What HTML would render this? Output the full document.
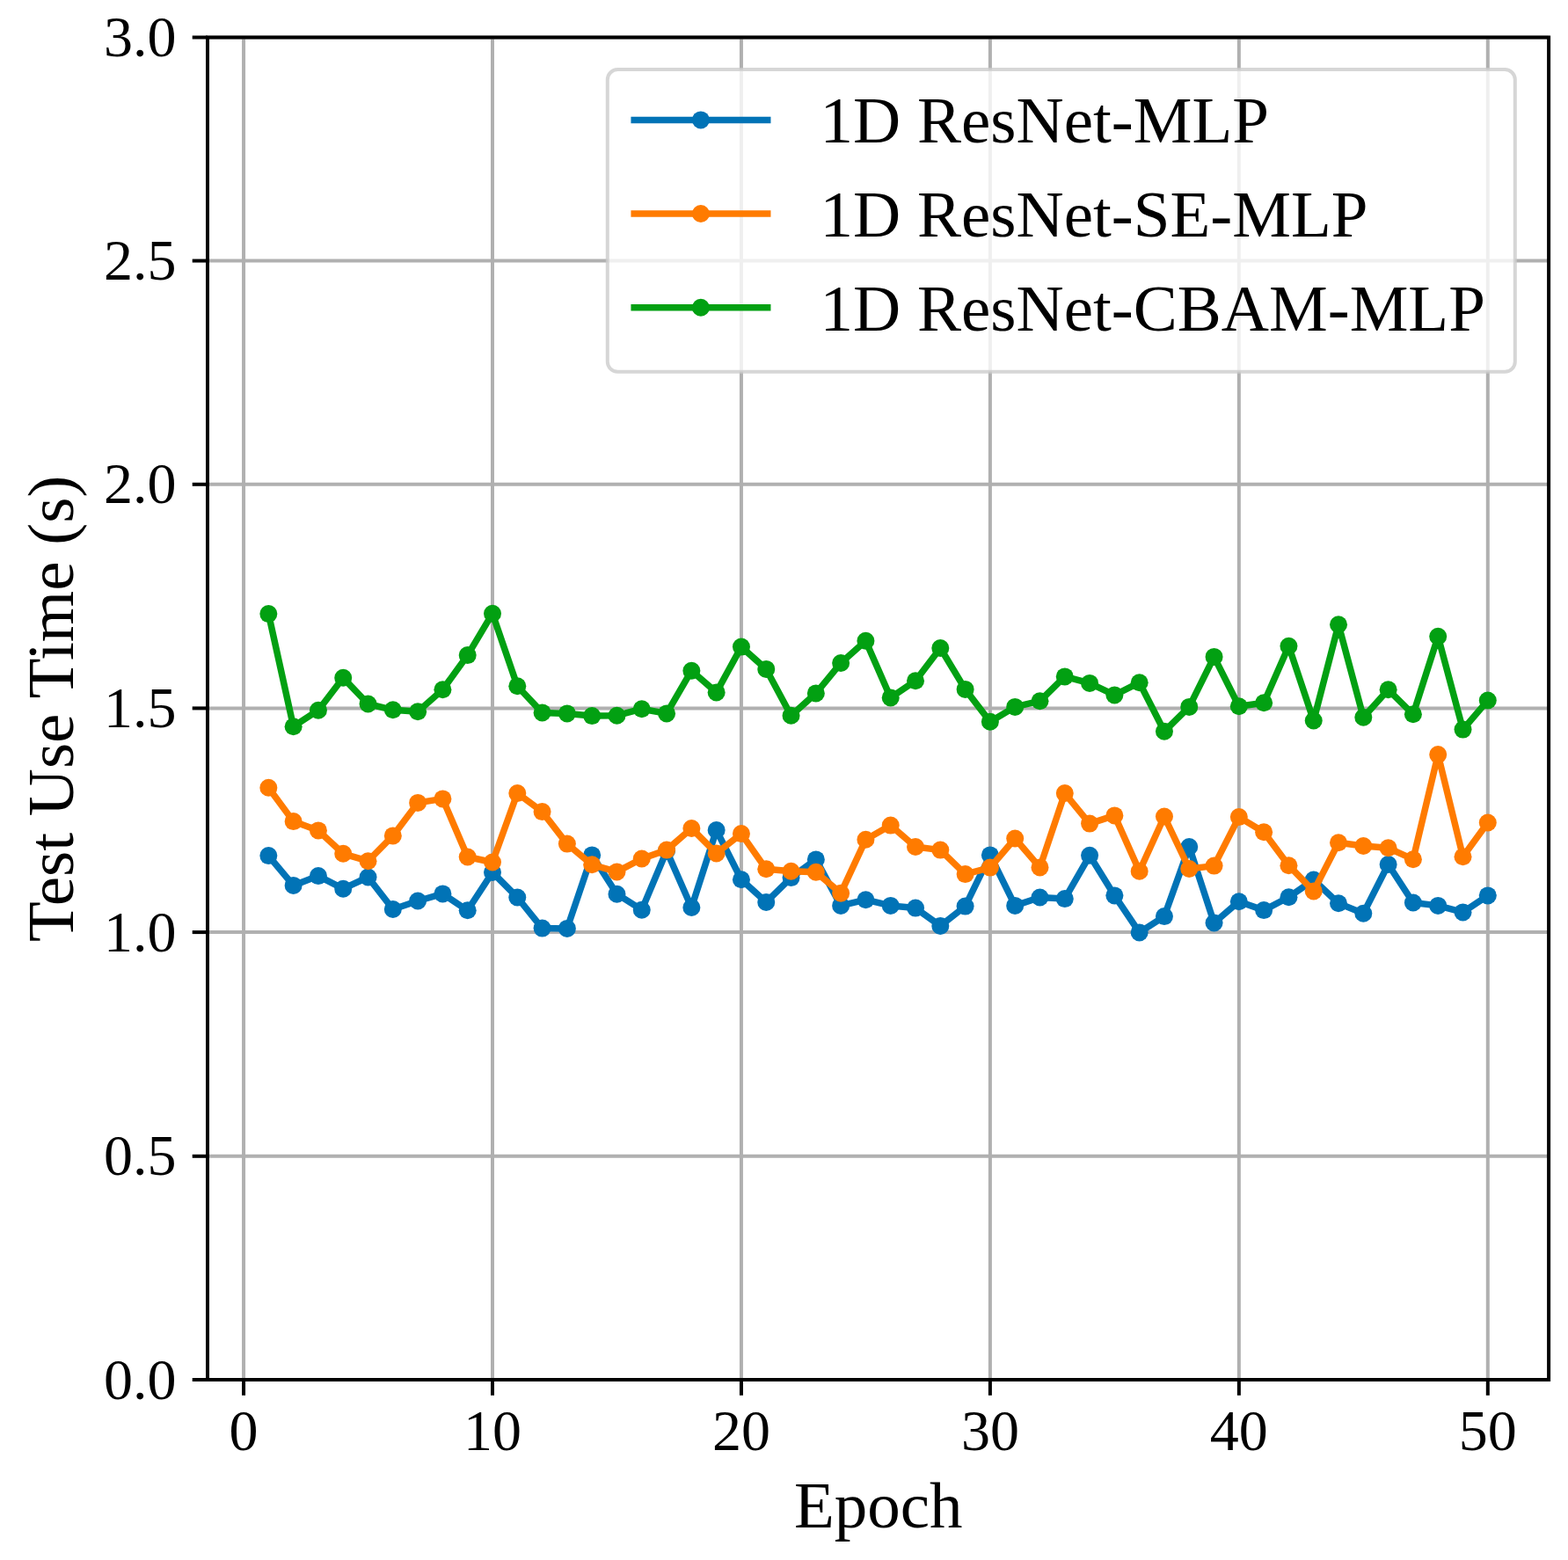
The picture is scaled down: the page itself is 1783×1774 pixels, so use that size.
<!DOCTYPE html>
<html lang="en"><head><meta charset="utf-8"><title>Test Use Time per Epoch</title>
<style>
html,body{margin:0;padding:0;background:#fff;}
body{width:1783px;height:1774px;overflow:hidden;}
svg{display:block;}
text{font-family:"Liberation Serif", "Times New Roman", Times, serif;fill:#000;}
.tk{font-size:66px;}
.lb{font-size:75px;}
.lg{font-size:75px;}
</style></head><body>
<svg width="1783" height="1774" viewBox="0 0 1783 1774">
<defs><filter id="soft" x="0" y="0" width="1783" height="1774" filterUnits="userSpaceOnUse" color-interpolation-filters="sRGB"><feGaussianBlur stdDeviation="0.75"/></filter></defs>
<rect x="0" y="0" width="1783" height="1774" fill="#fff"/>
<g filter="url(#soft)">
<rect x="0" y="0" width="1783" height="1774" fill="#fff"/>
<g stroke="#b0b0b0" stroke-width="4" fill="none">
<line x1="277.05" y1="42.5" x2="277.05" y2="1569"/>
<line x1="560" y1="42.5" x2="560" y2="1569"/>
<line x1="842.95" y1="42.5" x2="842.95" y2="1569"/>
<line x1="1125.9" y1="42.5" x2="1125.9" y2="1569"/>
<line x1="1408.85" y1="42.5" x2="1408.85" y2="1569"/>
<line x1="1691.8" y1="42.5" x2="1691.8" y2="1569"/>
<line x1="236" y1="42.5" x2="1761.1" y2="42.5"/>
<line x1="236" y1="296.55" x2="1761.1" y2="296.55"/>
<line x1="236" y1="550.8" x2="1761.1" y2="550.8"/>
<line x1="236" y1="805.4" x2="1761.1" y2="805.4"/>
<line x1="236" y1="1060.1" x2="1761.1" y2="1060.1"/>
<line x1="236" y1="1314.8" x2="1761.1" y2="1314.8"/>
<line x1="236" y1="1569" x2="1761.1" y2="1569"/>
</g>
<g fill="#0173B6" stroke="none">
<polyline points="305.35,973.1 333.64,1006.9 361.94,996.1 390.23,1010.7 418.53,997.5 446.82,1034 475.12,1024.5 503.41,1016.4 531.71,1035.3 560,992 588.3,1020.5 616.59,1055.6 644.88,1055.9 673.18,972.4 701.48,1016.7 729.77,1034.7 758.07,967.5 786.36,1032 814.65,944 842.95,1000.2 871.25,1025.9 899.54,998.1 927.84,977.4 956.13,1029.9 984.42,1023.2 1012.72,1029.9 1041.02,1032.6 1069.31,1052.9 1097.61,1030.6 1125.9,972.4 1154.2,1029.9 1182.49,1020.5 1210.79,1022.1 1239.08,972.8 1267.38,1018.4 1295.67,1060.4 1323.96,1042.1 1352.26,963 1380.56,1049.5 1408.85,1025.2 1437.14,1035.1 1465.44,1020.2 1493.74,1000.6 1522.03,1027.2 1550.33,1038.7 1578.62,983 1606.91,1026.5 1635.21,1029.9 1663.51,1037.4 1691.8,1018.4" fill="none" stroke="#0173B6" stroke-width="7.5" stroke-linejoin="round" stroke-linecap="square"/>
<circle cx="305.35" cy="973.1" r="10"/>
<circle cx="333.64" cy="1006.9" r="10"/>
<circle cx="361.94" cy="996.1" r="10"/>
<circle cx="390.23" cy="1010.7" r="10"/>
<circle cx="418.53" cy="997.5" r="10"/>
<circle cx="446.82" cy="1034" r="10"/>
<circle cx="475.12" cy="1024.5" r="10"/>
<circle cx="503.41" cy="1016.4" r="10"/>
<circle cx="531.71" cy="1035.3" r="10"/>
<circle cx="560" cy="992" r="10"/>
<circle cx="588.3" cy="1020.5" r="10"/>
<circle cx="616.59" cy="1055.6" r="10"/>
<circle cx="644.88" cy="1055.9" r="10"/>
<circle cx="673.18" cy="972.4" r="10"/>
<circle cx="701.48" cy="1016.7" r="10"/>
<circle cx="729.77" cy="1034.7" r="10"/>
<circle cx="758.07" cy="967.5" r="10"/>
<circle cx="786.36" cy="1032" r="10"/>
<circle cx="814.65" cy="944" r="10"/>
<circle cx="842.95" cy="1000.2" r="10"/>
<circle cx="871.25" cy="1025.9" r="10"/>
<circle cx="899.54" cy="998.1" r="10"/>
<circle cx="927.84" cy="977.4" r="10"/>
<circle cx="956.13" cy="1029.9" r="10"/>
<circle cx="984.42" cy="1023.2" r="10"/>
<circle cx="1012.72" cy="1029.9" r="10"/>
<circle cx="1041.02" cy="1032.6" r="10"/>
<circle cx="1069.31" cy="1052.9" r="10"/>
<circle cx="1097.61" cy="1030.6" r="10"/>
<circle cx="1125.9" cy="972.4" r="10"/>
<circle cx="1154.2" cy="1029.9" r="10"/>
<circle cx="1182.49" cy="1020.5" r="10"/>
<circle cx="1210.79" cy="1022.1" r="10"/>
<circle cx="1239.08" cy="972.8" r="10"/>
<circle cx="1267.38" cy="1018.4" r="10"/>
<circle cx="1295.67" cy="1060.4" r="10"/>
<circle cx="1323.96" cy="1042.1" r="10"/>
<circle cx="1352.26" cy="963" r="10"/>
<circle cx="1380.56" cy="1049.5" r="10"/>
<circle cx="1408.85" cy="1025.2" r="10"/>
<circle cx="1437.14" cy="1035.1" r="10"/>
<circle cx="1465.44" cy="1020.2" r="10"/>
<circle cx="1493.74" cy="1000.6" r="10"/>
<circle cx="1522.03" cy="1027.2" r="10"/>
<circle cx="1550.33" cy="1038.7" r="10"/>
<circle cx="1578.62" cy="983" r="10"/>
<circle cx="1606.91" cy="1026.5" r="10"/>
<circle cx="1635.21" cy="1029.9" r="10"/>
<circle cx="1663.51" cy="1037.4" r="10"/>
<circle cx="1691.8" cy="1018.4" r="10"/>
</g>
<g fill="#FF7B00" stroke="none">
<polyline points="305.35,895.7 333.64,934.1 361.94,944.4 390.23,970.8 418.53,979.2 446.82,950.4 475.12,912.9 503.41,908.4 531.71,974.5 560,980.5 588.3,902.1 616.59,923.1 644.88,959.6 673.18,983.3 701.48,991.4 729.77,976.5 758.07,966.6 786.36,942 814.65,970.4 842.95,948.1 871.25,988.3 899.54,990.7 927.84,991.8 956.13,1015.7 984.42,954.8 1012.72,938.6 1041.02,963 1069.31,966.6 1097.61,994.1 1125.9,986.6 1154.2,953.5 1182.49,986.4 1210.79,902.1 1239.08,936.6 1267.38,927.4 1295.67,990.7 1323.96,928.5 1352.26,988 1380.56,984.6 1408.85,929.1 1437.14,946.3 1465.44,984.2 1493.74,1013.4 1522.03,958.2 1550.33,962 1578.62,964.3 1606.91,977.2 1635.21,858.1 1663.51,974.2 1691.8,935.5" fill="none" stroke="#FF7B00" stroke-width="7.5" stroke-linejoin="round" stroke-linecap="square"/>
<circle cx="305.35" cy="895.7" r="10"/>
<circle cx="333.64" cy="934.1" r="10"/>
<circle cx="361.94" cy="944.4" r="10"/>
<circle cx="390.23" cy="970.8" r="10"/>
<circle cx="418.53" cy="979.2" r="10"/>
<circle cx="446.82" cy="950.4" r="10"/>
<circle cx="475.12" cy="912.9" r="10"/>
<circle cx="503.41" cy="908.4" r="10"/>
<circle cx="531.71" cy="974.5" r="10"/>
<circle cx="560" cy="980.5" r="10"/>
<circle cx="588.3" cy="902.1" r="10"/>
<circle cx="616.59" cy="923.1" r="10"/>
<circle cx="644.88" cy="959.6" r="10"/>
<circle cx="673.18" cy="983.3" r="10"/>
<circle cx="701.48" cy="991.4" r="10"/>
<circle cx="729.77" cy="976.5" r="10"/>
<circle cx="758.07" cy="966.6" r="10"/>
<circle cx="786.36" cy="942" r="10"/>
<circle cx="814.65" cy="970.4" r="10"/>
<circle cx="842.95" cy="948.1" r="10"/>
<circle cx="871.25" cy="988.3" r="10"/>
<circle cx="899.54" cy="990.7" r="10"/>
<circle cx="927.84" cy="991.8" r="10"/>
<circle cx="956.13" cy="1015.7" r="10"/>
<circle cx="984.42" cy="954.8" r="10"/>
<circle cx="1012.72" cy="938.6" r="10"/>
<circle cx="1041.02" cy="963" r="10"/>
<circle cx="1069.31" cy="966.6" r="10"/>
<circle cx="1097.61" cy="994.1" r="10"/>
<circle cx="1125.9" cy="986.6" r="10"/>
<circle cx="1154.2" cy="953.5" r="10"/>
<circle cx="1182.49" cy="986.4" r="10"/>
<circle cx="1210.79" cy="902.1" r="10"/>
<circle cx="1239.08" cy="936.6" r="10"/>
<circle cx="1267.38" cy="927.4" r="10"/>
<circle cx="1295.67" cy="990.7" r="10"/>
<circle cx="1323.96" cy="928.5" r="10"/>
<circle cx="1352.26" cy="988" r="10"/>
<circle cx="1380.56" cy="984.6" r="10"/>
<circle cx="1408.85" cy="929.1" r="10"/>
<circle cx="1437.14" cy="946.3" r="10"/>
<circle cx="1465.44" cy="984.2" r="10"/>
<circle cx="1493.74" cy="1013.4" r="10"/>
<circle cx="1522.03" cy="958.2" r="10"/>
<circle cx="1550.33" cy="962" r="10"/>
<circle cx="1578.62" cy="964.3" r="10"/>
<circle cx="1606.91" cy="977.2" r="10"/>
<circle cx="1635.21" cy="858.1" r="10"/>
<circle cx="1663.51" cy="974.2" r="10"/>
<circle cx="1691.8" cy="935.5" r="10"/>
</g>
<g fill="#02A012" stroke="none">
<polyline points="305.35,698.1 333.64,826.2 361.94,807.7 390.23,770.8 418.53,800.5 446.82,807.3 475.12,809.3 503.41,784.3 531.71,745.1 560,697.7 588.3,780.3 616.59,810.4 644.88,811.4 673.18,814.1 701.48,813.7 729.77,806.2 758.07,811.4 786.36,762.7 814.65,787.4 842.95,735.6 871.25,760.9 899.54,813.7 927.84,788.4 956.13,754 984.42,728.8 1012.72,793.4 1041.02,774.2 1069.31,737 1097.61,783.9 1125.9,820.8 1154.2,803.9 1182.49,797.2 1210.79,769.4 1239.08,776.9 1267.38,790.4 1295.67,776.2 1323.96,831.7 1352.26,803.9 1380.56,746.9 1408.85,803.3 1437.14,799.2 1465.44,734.7 1493.74,819.5 1522.03,710.3 1550.33,815.8 1578.62,784.3 1606.91,812.3 1635.21,723.8 1663.51,829.6 1691.8,796.5" fill="none" stroke="#02A012" stroke-width="7.5" stroke-linejoin="round" stroke-linecap="square"/>
<circle cx="305.35" cy="698.1" r="10"/>
<circle cx="333.64" cy="826.2" r="10"/>
<circle cx="361.94" cy="807.7" r="10"/>
<circle cx="390.23" cy="770.8" r="10"/>
<circle cx="418.53" cy="800.5" r="10"/>
<circle cx="446.82" cy="807.3" r="10"/>
<circle cx="475.12" cy="809.3" r="10"/>
<circle cx="503.41" cy="784.3" r="10"/>
<circle cx="531.71" cy="745.1" r="10"/>
<circle cx="560" cy="697.7" r="10"/>
<circle cx="588.3" cy="780.3" r="10"/>
<circle cx="616.59" cy="810.4" r="10"/>
<circle cx="644.88" cy="811.4" r="10"/>
<circle cx="673.18" cy="814.1" r="10"/>
<circle cx="701.48" cy="813.7" r="10"/>
<circle cx="729.77" cy="806.2" r="10"/>
<circle cx="758.07" cy="811.4" r="10"/>
<circle cx="786.36" cy="762.7" r="10"/>
<circle cx="814.65" cy="787.4" r="10"/>
<circle cx="842.95" cy="735.6" r="10"/>
<circle cx="871.25" cy="760.9" r="10"/>
<circle cx="899.54" cy="813.7" r="10"/>
<circle cx="927.84" cy="788.4" r="10"/>
<circle cx="956.13" cy="754" r="10"/>
<circle cx="984.42" cy="728.8" r="10"/>
<circle cx="1012.72" cy="793.4" r="10"/>
<circle cx="1041.02" cy="774.2" r="10"/>
<circle cx="1069.31" cy="737" r="10"/>
<circle cx="1097.61" cy="783.9" r="10"/>
<circle cx="1125.9" cy="820.8" r="10"/>
<circle cx="1154.2" cy="803.9" r="10"/>
<circle cx="1182.49" cy="797.2" r="10"/>
<circle cx="1210.79" cy="769.4" r="10"/>
<circle cx="1239.08" cy="776.9" r="10"/>
<circle cx="1267.38" cy="790.4" r="10"/>
<circle cx="1295.67" cy="776.2" r="10"/>
<circle cx="1323.96" cy="831.7" r="10"/>
<circle cx="1352.26" cy="803.9" r="10"/>
<circle cx="1380.56" cy="746.9" r="10"/>
<circle cx="1408.85" cy="803.3" r="10"/>
<circle cx="1437.14" cy="799.2" r="10"/>
<circle cx="1465.44" cy="734.7" r="10"/>
<circle cx="1493.74" cy="819.5" r="10"/>
<circle cx="1522.03" cy="710.3" r="10"/>
<circle cx="1550.33" cy="815.8" r="10"/>
<circle cx="1578.62" cy="784.3" r="10"/>
<circle cx="1606.91" cy="812.3" r="10"/>
<circle cx="1635.21" cy="723.8" r="10"/>
<circle cx="1663.51" cy="829.6" r="10"/>
<circle cx="1691.8" cy="796.5" r="10"/>
</g>
<g stroke="#000" stroke-width="4" fill="none">
<line x1="277.05" y1="1569" x2="277.05" y2="1586.8"/>
<line x1="560" y1="1569" x2="560" y2="1586.8"/>
<line x1="842.95" y1="1569" x2="842.95" y2="1586.8"/>
<line x1="1125.9" y1="1569" x2="1125.9" y2="1586.8"/>
<line x1="1408.85" y1="1569" x2="1408.85" y2="1586.8"/>
<line x1="1691.8" y1="1569" x2="1691.8" y2="1586.8"/>
<line x1="218.7" y1="42.5" x2="236" y2="42.5"/>
<line x1="218.7" y1="296.55" x2="236" y2="296.55"/>
<line x1="218.7" y1="550.8" x2="236" y2="550.8"/>
<line x1="218.7" y1="805.4" x2="236" y2="805.4"/>
<line x1="218.7" y1="1060.1" x2="236" y2="1060.1"/>
<line x1="218.7" y1="1314.8" x2="236" y2="1314.8"/>
<line x1="218.7" y1="1569" x2="236" y2="1569"/>
</g>
<rect x="236" y="42.5" width="1525.1" height="1526.5" fill="none" stroke="#000" stroke-width="4"/>
<text class="tk" x="200.5" y="64.1" text-anchor="end">3.0</text>
<text class="tk" x="200.5" y="318.15" text-anchor="end">2.5</text>
<text class="tk" x="200.5" y="572.4" text-anchor="end">2.0</text>
<text class="tk" x="200.5" y="827" text-anchor="end">1.5</text>
<text class="tk" x="200.5" y="1081.7" text-anchor="end">1.0</text>
<text class="tk" x="200.5" y="1336.4" text-anchor="end">0.5</text>
<text class="tk" x="200.5" y="1590.6" text-anchor="end">0.0</text>
<text class="tk" x="277.05" y="1649" text-anchor="middle">0</text>
<text class="tk" x="560" y="1649" text-anchor="middle">10</text>
<text class="tk" x="842.95" y="1649" text-anchor="middle">20</text>
<text class="tk" x="1125.9" y="1649" text-anchor="middle">30</text>
<text class="tk" x="1408.85" y="1649" text-anchor="middle">40</text>
<text class="tk" x="1691.8" y="1649" text-anchor="middle">50</text>
<text class="lb" x="998.8" y="1736.5" text-anchor="middle">Epoch</text>
<text class="lb" transform="translate(82.5 805.8) rotate(-90)" text-anchor="middle">Test Use Time (s)</text>
<rect x="690.8" y="79.1" width="1032" height="343.7" rx="11.5" ry="11.5" fill="#fff" fill-opacity="0.8" stroke="#cccccc" stroke-opacity="0.8" stroke-width="4"/>
<line x1="721.2" y1="136.4" x2="872.7" y2="136.4" stroke="#0173B6" stroke-width="7.5" stroke-linecap="square"/>
<circle cx="796.9" cy="136.4" r="10" fill="#0173B6"/>
<text class="lg" x="932.6" y="162.4">1D ResNet-MLP</text>
<line x1="721.2" y1="243" x2="872.7" y2="243" stroke="#FF7B00" stroke-width="7.5" stroke-linecap="square"/>
<circle cx="796.9" cy="243" r="10" fill="#FF7B00"/>
<text class="lg" x="932.6" y="269">1D ResNet-SE-MLP</text>
<line x1="721.2" y1="349.7" x2="872.7" y2="349.7" stroke="#02A012" stroke-width="7.5" stroke-linecap="square"/>
<circle cx="796.9" cy="349.7" r="10" fill="#02A012"/>
<text class="lg" x="932.6" y="375.7">1D ResNet-CBAM-MLP</text>
</g>
</svg>
</body></html>
